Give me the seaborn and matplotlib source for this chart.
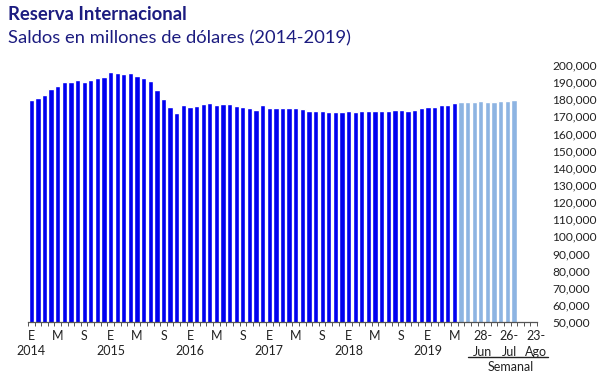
import matplotlib
matplotlib.use("Agg")
import matplotlib.pyplot as plt
import seaborn as sns
import numpy as np
import pandas as pd

# Monthly reserves (millions USD), Jan 2014 - May 2019
monthly_2014 = [179.5, 180.7, 182.6, 185.9, 187.9, 190.0, 190.0, 191.2, 190.0, 191.2, 192.4, 193.0]
monthly_2015 = [195.9, 195.3, 194.7, 195.3, 193.6, 192.4, 190.6, 185.4, 180.1, 175.4, 171.9, 176.6]
monthly_2016 = [175.4, 176.0, 177.3, 177.7, 176.6, 177.2, 177.2, 176.0, 175.4, 174.8, 173.6, 176.6]
monthly_2017 = [174.8, 174.8, 174.8, 174.8, 174.8, 174.2, 173.1, 173.1, 173.1, 172.5, 172.5, 172.5]
monthly_2018 = [173.1, 172.5, 173.1, 173.1, 173.1, 173.1, 173.1, 173.6, 173.6, 173.1, 173.6, 174.8]
monthly_2019 = [175.4, 175.4, 176.6, 176.6, 177.7]
monthly_values = [v * 1000 for v in monthly_2014 + monthly_2015 + monthly_2016 +
                  monthly_2017 + monthly_2018 + monthly_2019]

# Weekly reserves (millions USD), 2019
weekly_labels = ["7-Jun", "14-Jun", "21-Jun", "28-Jun", "5-Jul", "12-Jul", "19-Jul",
                 "26-Jul", "2-Ago", "9-Ago", "16-Ago", "23-Ago"]
weekly_values = [178.3, 178.3, 178.3, 178.9, 178.3, 178.3, 178.9, 178.9, 179.5,
                 np.nan, np.nan, np.nan]
weekly_values = [v * 1000 for v in weekly_values]

month_letters = ["E", "M", "S"]
years = ["2014", "2015", "2016", "2017", "2018", "2019"]
weekly_shown = ["28-\nJun", "26-\nJul", "23-\nAgo"]
yticks = list(range(50000, 200001, 10000))

n_m = len(monthly_values)
n_w = len(weekly_labels)
df = pd.DataFrame({
    "pos": list(range(n_m + n_w)),
    "value": monthly_values + weekly_values,
    "tipo": ["Mensual"] * n_m + ["Semanal"] * n_w,
})

sns.set_theme(style="white")
plt.rcParams["font.family"] = ["Lato", "DejaVu Sans"]

fig = plt.figure(figsize=(5.98, 3.77), dpi=100)
ax = fig.add_axes([28 / 598, 1 - 322 / 377, (537 - 28) / 598, (322 - 65) / 377])

sns.barplot(data=df, x="pos", y="value", hue="tipo",
            palette={"Mensual": "#0000F0", "Semanal": "#8DB4E2"},
            width=0.8, dodge=False, legend=False, ax=ax, saturation=1,
            native_scale=True)

ax.set_xlim(-0.5, n_m + n_w - 0.5)
ax.set_ylim(50000, 200000)
ax.set_xlabel("")
ax.set_ylabel("")

# y axis on right
ax.yaxis.tick_right()
ax.set_yticks(yticks)
ax.set_yticklabels([f"{v:,}" for v in yticks], fontsize=8.6, color="#222222")
ax.tick_params(axis="y", length=0, pad=11)
for s in ["top", "left", "right"]:
    ax.spines[s].set_visible(False)
ax.spines["bottom"].set_color("#555555")
ax.spines["bottom"].set_linewidth(0.9)

# small ticks between categories
ax.set_xticks(np.arange(-0.5, n_m + n_w, 1.0))
ax.set_xticklabels([])
ax.tick_params(axis="x", length=3, width=0.7, color="#555555", bottom=True)

trans = ax.get_xaxis_transform()
for i in range(0, n_m, 4):
    ax.text(i, -0.055, month_letters[(i // 4) % 3], transform=trans, ha="center",
            va="center", fontsize=9, color="#222222")
for k, y in enumerate(years):
    ax.text(12 * k, -0.114, y, transform=trans, ha="center", va="center",
            fontsize=9, color="#222222")
for j, lab in zip([n_m + 3, n_m + 7, n_m + 11], weekly_shown):
    ax.text(j + 0.3, -0.085, lab, transform=trans, ha="center", va="center",
            fontsize=9, color="#222222", linespacing=1.35)

line_y = -(357 - 322) / (322 - 65)
ax.plot([n_m + 1.0, n_m + 13.2], [line_y, line_y], transform=trans, color="#222222",
        lw=1.0, clip_on=False)
ax.text(n_m + 7.5, -(367 - 322) / (322 - 65), "Semanal", transform=trans, ha="center",
        va="center", fontsize=9, color="#222222")

fig.text(8 / 598, 1 - 15 / 377, "Reserva Internacional", fontsize=13.3, fontweight="bold",
         color="#1C1C80", ha="left", va="center")
fig.text(8 / 598, 1 - 38 / 377, "Saldos en millones de dólares (2014-2019)", fontsize=13.2,
         color="#1C1C80", ha="left", va="center")

fig.savefig("out.png", dpi=100)
